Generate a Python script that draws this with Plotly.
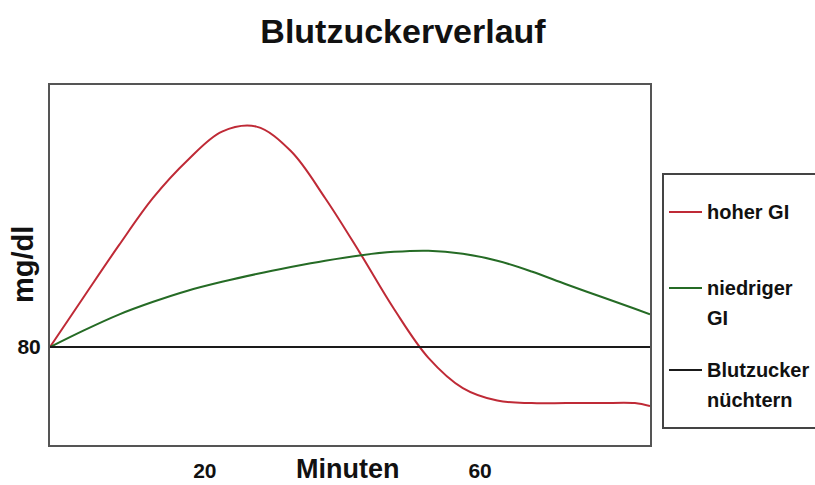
import plotly.graph_objects as go

# Time in minutes
minutes = [-2.5, 2.5, 7.5, 12.5, 17.5, 22.5, 27.5, 32.5, 37.5, 42.5, 47.5, 52.5, 57.5,
           62.5, 67.5, 72.5, 77.5, 82.5, 84.7]
# Blood sugar, high GI (mg/dl)
hoher_gi = [80, 98.4, 116.6, 133.8, 147.3, 157.6, 159.4, 150.6, 133.6, 114.1, 93.7, 76.1,
            65.2, 60.7, 59.8, 59.8, 59.8, 59.8, 58.7]
# Blood sugar, low GI (mg/dl)
niedriger_gi = [80, 86.1, 91.7, 96.3, 100.3, 103.5, 106.3, 108.8, 111.1, 113.0, 114.3, 114.7,
                113.6, 111.1, 107.2, 102.6, 98.2, 93.8, 91.8]
# Fasting blood sugar
nuechtern_x = [-2.5, 84.7]
nuechtern_y = [80, 80]

x_ticks = [20, 60]
y_ticks = [80]

legend_names = ["hoher GI", "niedriger\nGI", "Blutzucker\nnüchtern"]
colors = ["#bf2a36", "#256b25", "#1a1a1a"]

font = "Liberation Sans, Arial, sans-serif"

fig = go.Figure()
fig.add_trace(go.Scatter(x=minutes, y=hoher_gi, mode="lines", name=legend_names[0],
                         line=dict(color=colors[0], width=2, shape="spline", smoothing=1.0)))
fig.add_trace(go.Scatter(x=minutes, y=niedriger_gi, mode="lines", name=legend_names[1],
                         line=dict(color=colors[1], width=2, shape="spline", smoothing=1.0)))
fig.add_trace(go.Scatter(x=nuechtern_x, y=nuechtern_y, mode="lines", name=legend_names[2],
                         line=dict(color=colors[2], width=2)))

L, T, W, H = 50, 85, 600, 360


def px(x):
    return (x - L) / W


def py(y):
    return (T + H - y) / H


fig.update_layout(
    width=815, height=485,
    margin=dict(l=L, r=815 - L - W, t=T, b=485 - T - H, autoexpand=False),
    paper_bgcolor="white", plot_bgcolor="white",
    title=dict(text="<b>Blutzuckerverlauf</b>", x=403 / 815, xref="container", xanchor="center",
               y=1 - 31 / 485, yref="container", yanchor="middle",
               font=dict(family=font, size=34, color="#111")),
    showlegend=False,
    font=dict(family=font, color="#111"),
)
fig.update_xaxes(range=[-2.5, 84.7], tickvals=x_ticks, showgrid=False, zeroline=False,
                 showline=True, mirror=True, linecolor="#555", linewidth=2, automargin=False,
                 ticks="", ticklen=0, ticklabelstandoff=6,
                 tickfont=dict(family=font, size=21, color="#111", weight="bold"))
fig.update_yaxes(range=[44.7, 174.4], tickvals=y_ticks, showgrid=False, zeroline=False,
                 showline=True, mirror=True, linecolor="#555", linewidth=2, automargin=False,
                 ticks="", ticklen=0, ticklabelstandoff=3,
                 tickfont=dict(family=font, size=21, color="#111", weight="bold"))

fig.add_annotation(text="<b>Minuten</b>", xref="paper", yref="paper",
                   x=px(347), y=py(469), xanchor="center", yanchor="middle",
                   showarrow=False, font=dict(family=font, size=27, color="#111"))
fig.add_annotation(text="<b>mg/dl</b>", xref="paper", yref="paper",
                   x=px(23), y=py(265), xanchor="center", yanchor="middle",
                   textangle=-90, showarrow=False, font=dict(family=font, size=29, color="#111"))

# Legend box
fig.add_shape(type="rect", xref="paper", yref="paper", x0=px(663), x1=px(830),
              y0=py(428), y1=py(174), line=dict(color="#444", width=2), fillcolor="white",
              layer="above")
legend_rows = [212, 288, 370]
line_gap = 27
for name, color, row in zip(legend_names, colors, legend_rows):
    fig.add_shape(type="line", xref="paper", yref="paper", x0=px(669), x1=px(702),
                  y0=py(row), y1=py(row), line=dict(color=color, width=2), layer="above")
    for i, part in enumerate(name.split("\n")):
        fig.add_annotation(text="<b>" + part + "</b>", xref="paper", yref="paper",
                           x=px(705), y=py(row + i * line_gap + (3 if i else 0)),
                           xanchor="left", yanchor="middle", showarrow=False,
                           font=dict(family=font, size=20, color="#111"))

fig.write_html("out.html", config={"displayModeBar": False},
               post_script="document.body.style.margin='0';")
